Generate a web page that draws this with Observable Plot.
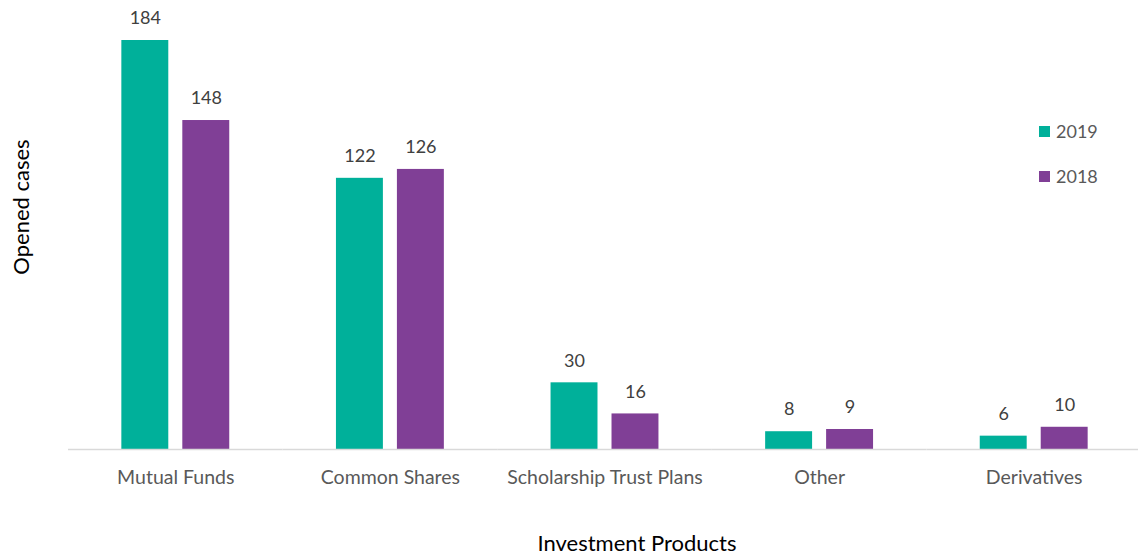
<!DOCTYPE html>
<html>
<head>
<meta charset="utf-8">
<script src="https://cdn.jsdelivr.net/npm/d3@7"></script>
<script src="https://cdn.jsdelivr.net/npm/@observablehq/plot@0.6"></script>
<style>
  html, body { margin: 0; padding: 0; background: #fff; }
  #wrap { position: relative; width: 1138px; height: 556px; font-family: Lato, "Open Sans", sans-serif; }
  #wrap svg { position: absolute; left: 0; top: 0; }
  .ytitle { position: absolute; left: 20px; top: 207px; transform: translate(-50%, -50%) rotate(-90deg); font-size: 22px; color: #000; white-space: nowrap; }
  .xtitle { position: absolute; left: 637px; top: 542px; transform: translate(-50%, -50%); font-size: 22px; color: #000; white-space: nowrap; }
  .legend { position: absolute; left: 1039px; font-size: 18px; color: #595959; display: flex; align-items: center; transform: translateY(-50%); }
  .legend span.sw { display: inline-block; width: 11px; height: 11px; margin-right: 6px; }
</style>
</head>
<body>
<div id="wrap"></div>
<script>
const categories = ["Mutual Funds", "Common Shares", "Scholarship Trust Plans", "Other", "Derivatives"];
const years = ["2019", "2018"];
const values2019 = [184, 122, 30, 8, 6];
const values2018 = [148, 126, 16, 9, 10];
const colors = ["#00B09A", "#803F96"];
const yAxisTitle = "Opened cases";
const xAxisTitle = "Investment Products";

const data = [];
categories.forEach((c, i) => {
  data.push({category: c, year: years[0], value: values2019[i]});
  data.push({category: c, year: years[1], value: values2018[i]});
});

const chart = Plot.plot({
  width: 1138,
  height: 556,
  marginTop: 40,
  marginBottom: 107,
  marginLeft: 68,
  marginRight: 0,
  style: {fontFamily: "Lato, 'Open Sans', sans-serif", background: "transparent"},
  fx: {domain: categories, padding: 0, range: [68, 1141], round: false, label: null},
  x: {domain: years, axis: null, paddingInner: 0.23, paddingOuter: 0.875, round: false},
  y: {domain: [0, 184], nice: false, axis: null},
  color: {domain: years, range: colors},
  marks: [
    Plot.barY(data, {fx: "category", x: "year", y: "value", fill: "year"}),
    Plot.ruleY([0], {stroke: "#d9d9d9", strokeWidth: 1.5}),
    Plot.text(data, {fx: "category", x: "year", y: "value", text: d => String(d.value), dy: -22, lineAnchor: "middle", fill: "#404040", fontSize: 18}),
    Plot.axisFx({anchor: "bottom", tickSize: 0, tickPadding: 21, fontSize: 19.5, color: "#595959", label: null})
  ]
});

const wrap = document.getElementById("wrap");
wrap.appendChild(chart);

const yt = document.createElement("div");
yt.className = "ytitle"; yt.textContent = yAxisTitle; wrap.appendChild(yt);
const xt = document.createElement("div");
xt.className = "xtitle"; xt.textContent = xAxisTitle; wrap.appendChild(xt);

years.forEach((y, i) => {
  const d = document.createElement("div");
  d.className = "legend";
  d.style.top = (131 + i * 45) + "px";
  const sw = document.createElement("span");
  sw.className = "sw"; sw.style.background = colors[i];
  d.appendChild(sw);
  d.appendChild(document.createTextNode(y));
  wrap.appendChild(d);
});
</script>
</body>
</html>
